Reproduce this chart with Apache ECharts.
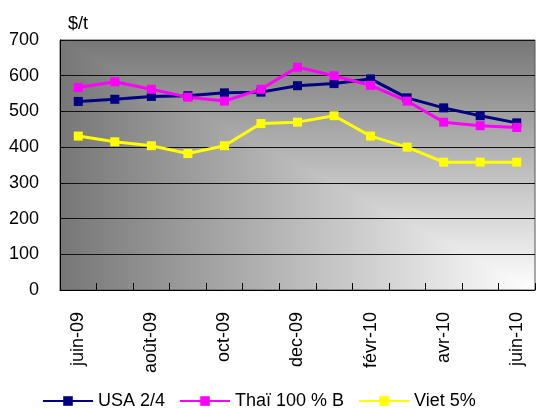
<!DOCTYPE html>
<html><head><meta charset="utf-8">
<script src="https://cdn.jsdelivr.net/npm/echarts@6/dist/echarts.min.js"></script>
<style>html,body{margin:0;padding:0;background:#fff}#c{width:536px;height:408px}</style>
</head><body><div id="c"></div>
<script>
var categories = ['juin-09','juil-09','août-09','sept-09','oct-09','nov-09','dec-09','janv-10','févr-10','mars-10','avr-10','mai-10','juin-10'];
var usa = [528, 534, 542, 544, 552, 554, 572, 578, 591, 538, 510, 488, 468];
var thai = [567, 583, 562, 540, 529, 562, 624, 600, 573, 529, 470, 460, 455];
var viet = [431, 415, 404, 382, 404, 466, 470, 488, 431, 400, 358, 358, 358];
var seriesNames = ['USA 2/4', 'Thaï 100 % B', 'Viet 5%'];
var yTicks = {min: 0, max: 700, interval: 100};

var FONT = '"Liberation Sans", Arial, sans-serif';
var FS = 18;
var G = {left: 60, top: 40, right: 535, bottom: 290};
var DARK = '#777777', LIGHT = '#ffffff';

var chart = echarts.init(document.getElementById('c'), null, {renderer: 'canvas'});
function mk(name, data, color) {
  return {
    name: name, type: 'line', data: data,
    symbol: 'rect', symbolSize: 9,
    lineStyle: {color: color, width: 3},
    itemStyle: {color: color},
    animation: false
  };
}
chart.setOption({
  animation: false,
  textStyle: {fontFamily: FONT},
  title: {text: '$/t', left: 63, top: 10, textStyle: {fontFamily: FONT, fontSize: FS, fontWeight: 'normal', color: '#000'}},
  grid: {left: G.left, top: G.top, width: G.right - G.left, height: G.bottom - G.top, show: true, borderColor: '#555', borderWidth: 1, backgroundColor: 'transparent'},
  graphic: [
    {type: 'rect', z: -11, silent: true,
     shape: {x: G.left, y: G.top, width: G.right - G.left, height: G.bottom - G.top},
     style: {fill: new echarts.graphic.LinearGradient(G.right, 0, G.left, 0, [{offset: 0, color: LIGHT}, {offset: 1, color: DARK}], true)}},
    {type: 'polygon', z: -10, silent: true,
     shape: {points: [[G.left, G.top], [G.right, G.top], [G.right, G.bottom]]},
     style: {fill: new echarts.graphic.LinearGradient(0, G.bottom, 0, G.top, [{offset: 0, color: LIGHT}, {offset: 1, color: DARK}], true)}}
  ],
  legend: {
    data: seriesNames, left: 37, top: 386,
    itemWidth: 50, itemHeight: 12, itemGap: 14,
    textStyle: {fontFamily: FONT, fontSize: FS, color: '#000', lineHeight: 20}
  },
  xAxis: {
    type: 'category', data: categories, boundaryGap: true,
    axisLine: {lineStyle: {color: '#000', width: 1}},
    axisTick: {show: true, inside: true, length: 7, interval: 0, lineStyle: {color: '#000'}},
    axisLabel: {interval: 1, rotate: 90, margin: 22, color: '#000', fontSize: FS, fontFamily: FONT},
    splitLine: {show: false}
  },
  yAxis: {
    type: 'value', min: yTicks.min, max: yTicks.max, interval: yTicks.interval,
    axisLine: {show: true, lineStyle: {color: '#000', width: 1}},
    axisTick: {show: true, inside: true, length: 3, lineStyle: {color: '#000'}},
    axisLabel: {margin: 21, color: '#000', fontSize: FS, fontFamily: FONT},
    splitLine: {show: true, lineStyle: {color: '#111', width: 1}}
  },
  series: [mk(seriesNames[0], usa, '#000080'), mk(seriesNames[1], thai, '#ff00ff'), mk(seriesNames[2], viet, '#ffff00')]
});
</script></body></html>
